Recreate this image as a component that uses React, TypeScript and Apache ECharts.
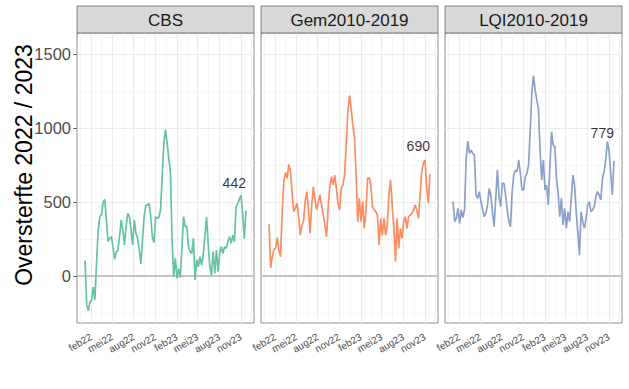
import React, { useEffect, useRef } from "react";
import * as echarts from "echarts";

// ---- data ----
const panels = ["CBS", "Gem2010-2019", "LQI2010-2019"];
const lineColors = ["#66c2a5", "#fc8d62", "#8da0cb"];
const firstWeek = "2022-01-06"; // weekly points, 2022-W01 .. 2023-W47

const cbs = [
  105, -192, -235, -174, -165, -75, -160, 90, 311, 401,
  413, 496, 519, 379, 232, 255, 266, 198, 113, 165,
  171, 266, 379, 311, 210, 334, 424, 401, 311, 210,
  379, 289, 255, 176, 81, 244, 401, 480, 480, 492,
  401, 266, 226, 401, 390, 397, 450, 680, 900, 990,
  898, 796, 695, 250, -5, 120, -16, 50, -10, 190,
  401, 334, 334, 198, 165, 153, 255, -27, 110, 63,
  131, 74, 142, 266, 401, 221, 63, 7, 165, 18,
  176, 29, 153, 198, 153, 198, 187, 232, 266, 221,
  277, 232, 469, 490, 520, 545, 420, 250, 442,
];
const gem = [
  350, 55, 131, 180, 190, 260, 170, 131, 435, 638,
  701, 661, 755, 717, 571, 435, 458, 492, 400, 277,
  345, 368, 503, 571, 458, 289, 480, 604, 514, 447,
  500, 548, 480, 413, 345, 266, 458, 604, 672, 616,
  683, 593, 490, 447, 593, 616, 683, 886, 1112, 1220,
  1134, 1022, 940, 700, 368, 525, 368, 503, 322, 435,
  661, 665, 616, 469, 447, 435, 413, 210, 390, 277,
  390, 277, 345, 548, 650, 480, 334, 97, 390, 187,
  322, 255, 368, 401, 322, 401, 413, 424, 447, 480,
  447, 390, 548, 706, 762, 785, 600, 492, 690,
];
const lqi = [
  503, 368, 390, 458, 356, 447, 395, 450, 796, 913,
  830, 852, 830, 819, 548, 525, 571, 503, 450, 401,
  424, 480, 593, 548, 435, 334, 525, 717, 537, 469,
  627, 627, 548, 447, 368, 334, 571, 683, 717, 706,
  785, 695, 582, 582, 672, 695, 751, 977, 1247, 1355,
  1258, 1191, 1134, 850, 650, 785, 582, 616, 480, 750,
  976, 886, 875, 661, 559, 401, 525, 345, 458, 322,
  435, 368, 525, 683, 616, 435, 300, 140, 435, 368,
  322, 390, 480, 503, 435, 447, 469, 537, 571, 548,
  514, 661, 706, 785, 910, 850, 700, 548, 779,
];

const tickMonths = [
  "2022-02-01", "2022-05-01", "2022-08-01", "2022-11-01",
  "2023-02-01", "2023-05-01", "2023-08-01", "2023-11-01",
];
const monthNames = ["jan", "feb", "mrt", "apr", "mei", "jun", "jul", "aug", "sep", "okt", "nov", "dec"];
const yTicks = [0, 500, 1000, 1500];
const yMinorTicks = [-250, 250, 750, 1250];

// ---- layout / style ----
const FONT = "Liberation Sans, Arial, Helvetica, sans-serif";
const GRID_LEFT = [77, 261, 445];
const GRID_TOP = 33;
const GRID_W = 177;
const GRID_H = 290;
const Y_MIN = -318;
const Y_MAX = 1644;
const BORDER = "rgba(51,51,51,0.55)";

export default function App() {
  const ref = useRef<HTMLDivElement>(null);

  useEffect(() => {
    if (!ref.current) return;
    const chart = echarts.init(ref.current, null, { renderer: "svg" });

    const DAY = 86400000;
    const t0 = Date.parse(firstWeek + "T00:00:00Z");
    const allValues = [cbs, gem, lqi];
    const n = cbs.length;
    const dates = Array.from({ length: n }, (_, i) => t0 + i * 7 * DAY);
    const span = dates[n - 1] - dates[0];
    const xMin = dates[0] - 0.05 * span;
    const xMax = dates[n - 1] + 0.05 * span;

    const majors = tickMonths.map((s) => Date.parse(s + "T00:00:00Z"));
    const minors: number[] = [majors[0] - (majors[1] - majors[0]) / 2];
    for (let i = 0; i < majors.length - 1; i++) minors.push((majors[i] + majors[i + 1]) / 2);
    const lastM = majors[majors.length - 1];
    minors.push(lastM + (lastM - majors[majors.length - 2]) / 2);

    const fmt = (v: number) => {
      const d = new Date(v);
      return monthNames[d.getUTCMonth()] + String(d.getUTCFullYear()).slice(2);
    };

    const gridLines = [
      ...minors.map((v) => ({ xAxis: v, lineStyle: { color: "#f3f3f3", width: 0.8, type: "solid" } })),
      ...yMinorTicks.map((v) => ({ yAxis: v, lineStyle: { color: "#f3f3f3", width: 0.8, type: "solid" } })),
      ...majors.map((v) => ({ xAxis: v, lineStyle: { color: "#ebebeb", width: 1.1, type: "solid" } })),
      ...yTicks.filter((v) => v !== 0).map((v) => ({ yAxis: v, lineStyle: { color: "#ebebeb", width: 1.1, type: "solid" } })),
      { yAxis: 0, lineStyle: { color: "#c4c4c4", width: 2, type: "solid" } },
    ];

    const grids = panels.map((_, k) => ({
      left: GRID_LEFT[k],
      top: GRID_TOP,
      width: GRID_W,
      height: GRID_H,
      show: true,
      borderColor: BORDER,
      borderWidth: 1,
      backgroundColor: "#ffffff",
    }));

    const xAxes = panels.map((_, k) => ({
      type: "value",
      gridIndex: k,
      min: xMin,
      max: xMax,
      axisLine: { show: false },
      splitLine: { show: false },
      axisTick: { show: true, customValues: majors, length: 3, lineStyle: { color: "#555", width: 1 } },
      axisLabel: {
        show: true,
        customValues: majors,
        formatter: fmt,
        rotate: 30,
        margin: 13,
        fontSize: 10,
        color: "#4d4d4d",
        fontFamily: FONT,
        hideOverlap: false,
      },
    }));

    const yAxes = panels.map((_, k) => ({
      type: "value",
      gridIndex: k,
      min: Y_MIN,
      max: Y_MAX,
      axisLine: { show: false },
      splitLine: { show: false },
      axisTick: { show: k === 0, customValues: yTicks, length: 3.5, lineStyle: { color: "#555", width: 1 } },
      axisLabel: {
        show: k === 0,
        customValues: yTicks,
        formatter: (v: number) => String(v),
        margin: 6,
        fontSize: 16.5,
        color: "#4d4d4d",
        fontFamily: FONT,
      },
    }));

    const lineSeries = panels.map((name, k) => ({
      type: "line",
      name,
      xAxisIndex: k,
      yAxisIndex: k,
      data: dates.map((d, i) => [d, allValues[k][i]]),
      showSymbol: false,
      symbol: "none",
      lineStyle: { color: lineColors[k], width: 1.7 },
      itemStyle: { color: lineColors[k] },
      z: 3,
      silent: true,
      markLine: {
        silent: true,
        symbol: ["none", "none"],
        z: 1,
        animation: false,
        label: { show: false },
        emphasis: { disabled: true },
        data: gridLines,
      },
    }));

    const labelSeries = panels.map((name, k) => {
      const vals = allValues[k];
      const last = vals[vals.length - 1];
      return {
        type: "scatter",
        name: name + "-label",
        xAxisIndex: k,
        yAxisIndex: k,
        symbolSize: 0,
        silent: true,
        z: 4,
        data: [{ value: [dates[n - 1], last + 190], name: String(last) }],
        label: {
          show: true,
          position: "inside",
          align: "right",
          verticalAlign: "middle",
          formatter: "{b}",
          fontSize: 14,
          color: "#000",
          fontFamily: FONT,
        },
      };
    });

    const graphics: any[] = [];
    panels.forEach((name, k) => {
      graphics.push({
        type: "rect",
        shape: { x: GRID_LEFT[k], y: 6, width: GRID_W, height: GRID_TOP - 6 },
        style: { fill: "#d9d9d9", stroke: BORDER, lineWidth: 1 },
        silent: true,
        z: 10,
      });
      graphics.push({
        type: "text",
        x: GRID_LEFT[k] + GRID_W / 2,
        y: (6 + GRID_TOP) / 2 + 0.5,
        style: {
          text: name,
          fontSize: 17,
          fontFamily: FONT,
          fill: "#1a1a1a",
          align: "center",
          verticalAlign: "middle",
        },
        silent: true,
        z: 11,
      });
    });
    graphics.push({
      type: "text",
      x: 24,
      y: 165,
      rotation: Math.PI / 2,
      style: {
        text: "Oversterfte 2022 / 2023",
        fontSize: 23,
        fontFamily: FONT,
        fill: "#000",
        align: "center",
        verticalAlign: "middle",
      },
      silent: true,
    });

    chart.setOption({
      animation: false,
      backgroundColor: "#ffffff",
      textStyle: { fontFamily: FONT },
      grid: grids,
      xAxis: xAxes,
      yAxis: yAxes,
      series: [...lineSeries, ...labelSeries],
      graphic: graphics,
    } as any);

    return () => chart.dispose();
  }, []);

  return (
    <div
      ref={ref}
      style={{ position: "fixed", left: 0, top: 0, width: 629, height: 389, background: "#fff" }}
    />
  );
}
